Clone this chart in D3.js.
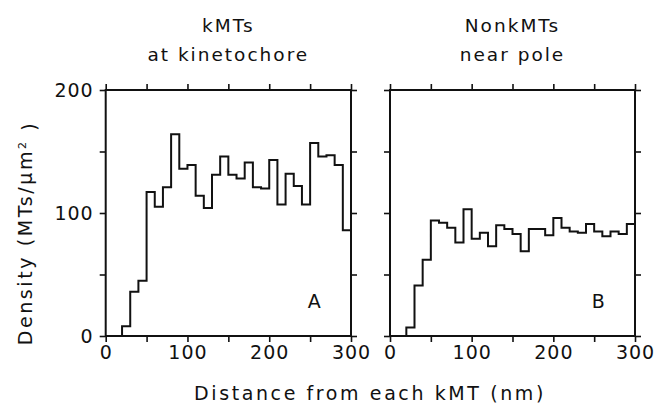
<!DOCTYPE html>
<html>
<head>
<meta charset="utf-8">
<script src="https://cdn.jsdelivr.net/npm/d3@7"></script>
<style>
  body { margin: 0; background: #fff; }
  text { font-family: "DejaVu Sans", sans-serif; fill: #111; }
</style>
</head>
<body>
<div id="chart"></div>
<script>
// bin start (nm), 10 nm bins
const distance = [0, 10, 20, 30, 40, 50, 60, 70, 80, 90, 100, 110, 120, 130, 140,
  150, 160, 170, 180, 190, 200, 210, 220, 230, 240, 250, 260, 270, 280, 290];
const kmtDensity = [0, 0, 8, 36, 45, 117, 105, 121, 164, 136, 139, 114, 104, 131, 146,
  131, 128, 141, 121, 120, 143, 107, 132, 122, 107, 157, 146, 147, 139, 86];
const nonkDensity = [0, 0, 7, 41, 62, 94, 92, 88, 76, 103, 79, 84, 73, 90, 87,
  83, 69, 87, 87, 82, 96, 88, 85, 84, 91, 85, 81, 85, 83, 91];
const titles = [["kMTs", "at kinetochore"], ["NonkMTs", "near pole"]];
const panelLetters = ["A", "B"];
const xTicks = [0, 50, 100, 150, 200, 250, 300];
const yTicks = [0, 50, 100, 150, 200];

const width = 667, height = 403;
const plotTop = 90, plotBottom = 336;
const panels = [
  { left: 105.7, right: 351, data: kmtDensity },
  { left: 390, right: 635, data: nonkDensity }
];

const svg = d3.select("#chart").append("svg")
  .attr("width", width)
  .attr("height", height);

const y = d3.scaleLinear().domain([0, 200]).range([plotBottom, plotTop]);

panels.forEach((p, i) => {
  const x = d3.scaleLinear().domain([0, 300]).range([p.left, p.right]);
  const g = svg.append("g");

  // frame axes, ticks pointing outward on every side
  const styleAxis = sel => {
    sel.select(".domain").remove();
    sel.selectAll(".tick line").attr("stroke", "#111").attr("stroke-width", 1.6);
    sel.selectAll(".tick text")
      .style("font-size", "19px")
      .style("letter-spacing", "1px")
      .attr("fill", "#111");
  };

  g.append("g")
    .attr("transform", `translate(0,${plotBottom})`)
    .call(d3.axisBottom(x).tickValues(xTicks).tickSize(6).tickPadding(4)
      .tickFormat(d => d % 100 === 0 ? d : ""))
    .call(styleAxis);

  g.append("g")
    .attr("transform", `translate(0,${plotTop})`)
    .call(d3.axisTop(x).tickValues(xTicks).tickSize(6).tickFormat(""))
    .call(styleAxis);

  g.append("g")
    .attr("transform", `translate(${p.left},0)`)
    .call(d3.axisLeft(y).tickValues(yTicks).tickSize(6).tickPadding(6)
      .tickFormat(d => i === 0 && d % 100 === 0 ? d : ""))
    .call(styleAxis);

  g.append("g")
    .attr("transform", `translate(${p.right},0)`)
    .call(d3.axisRight(y).tickValues(yTicks).tickSize(6).tickFormat(""))
    .call(styleAxis);

  g.append("rect")
    .attr("x", p.left)
    .attr("y", plotTop)
    .attr("width", p.right - p.left)
    .attr("height", plotBottom - plotTop)
    .attr("fill", "none")
    .attr("stroke", "#111")
    .attr("stroke-width", 2);

  // histogram as a step line
  const pts = distance.map((d, k) => [d, p.data[k]]);
  pts.push([300, p.data[p.data.length - 1]]);
  const line = d3.line()
    .x(d => x(d[0]))
    .y(d => y(d[1]))
    .curve(d3.curveStepAfter);

  g.append("path")
    .datum(pts)
    .attr("d", line)
    .attr("fill", "none")
    .attr("stroke", "#111")
    .attr("stroke-width", 2);

  // titles
  const cx = (p.left + p.right) / 2;
  titles[i].forEach((t, k) => {
    g.append("text")
      .attr("x", cx)
      .attr("y", k === 0 ? 32 : 61)
      .attr("text-anchor", "middle")
      .style("font-size", "18.5px")
      .style("letter-spacing", "2px")
      .text(t);
  });

  g.append("text")
    .attr("x", x(255))
    .attr("y", 308)
    .attr("text-anchor", "middle")
    .style("font-size", "19px")
    .text(panelLetters[i]);
});

// x label
svg.append("text")
  .attr("x", 370)
  .attr("y", 400)
  .attr("text-anchor", "middle")
  .style("font-size", "19px")
  .style("letter-spacing", "2.6px")
  .text("Distance from each kMT (nm)");

// y label
const yl = svg.append("text")
  .attr("transform", "translate(32,233) rotate(-90)")
  .attr("text-anchor", "middle")
  .style("font-size", "19px")
  .style("letter-spacing", "2.6px");
yl.append("tspan").text("Density (MTs/\u03bcm");
yl.append("tspan").attr("dy", "-0.55em").style("font-size", "11px").text("2");
yl.append("tspan").attr("dy", "0.55em").text(" )");
</script>
</body>
</html>
